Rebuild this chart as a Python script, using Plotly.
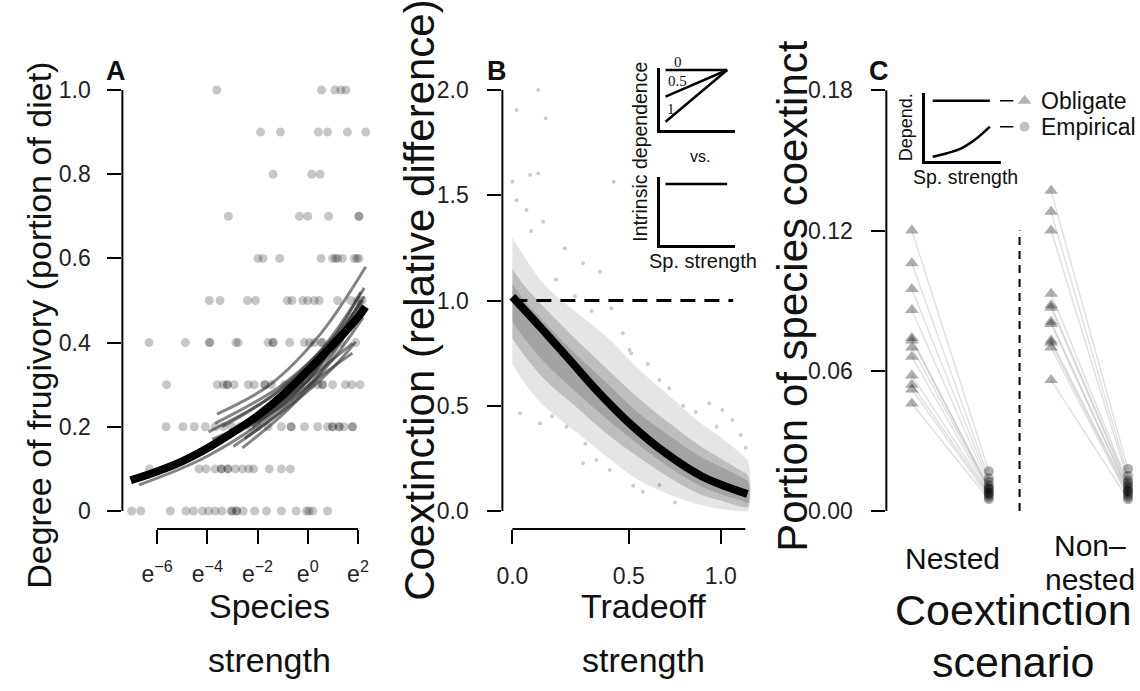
import plotly.graph_objects as go

W, H = 1140, 691
def fx(p): return p / W
def fy(p): return 1 - p / H

FONT = "Liberation Sans, Arial, Helvetica, sans-serif"
SERIF = "Liberation Serif, Times New Roman, serif"
INK = "#111111"

# ---------------- Panel A data (x = ln species strength) ----------------
a_x_100 = [-3.62, 0.55, 1.08, 1.32, 1.52]
a_x_090 = [-1.88, -1.09, 0.42, 0.79, 1.58, 2.31]
a_x_080 = [-1.38, 0.16, 0.49]
a_x_070 = [-3.16, -0.33, 0.0, 0.83, 2.04, 2.04]
a_x_060 = [-1.98, -1.78, -1.12, 0.53, 0.99, 1.10, 1.19, 1.38, 1.85, 1.95, 2.04]
a_x_050 = [-3.92, -3.49, -2.40, -2.08, -0.81, -0.63, -0.20, 0.0, 0.26, 0.46, 1.19, 1.71, 1.98, 2.17]
a_x_040 = [-6.32, -4.87, -3.91, -3.91, -2.86, -2.77, -1.58, -1.38, -1.38, -0.72, -0.13, 0.07, 0.26, 0.53, 0.59, 1.05, 1.32, 1.91]
a_x_030 = [-5.62, -3.60, -3.36, -3.20, -3.20, -2.93, -2.37, -2.13, -1.71, -1.71, -1.45, -0.92, -0.53, -0.26, 0.13, 0.40, 0.59, 0.59, 0.99, 1.50, 1.75, 2.08]
a_x_020 = [-5.64, -4.97, -4.52, -4.08, -3.69, -3.36, -3.03, -2.70, -2.30, -1.98, -1.58, -1.05, -0.66, -0.66, -0.13, 0.40, 0.79, 0.99, 0.99, 1.25, 1.25, 1.45, 1.78, 1.78]
a_x_010 = [-6.30, -4.33, -4.05, -3.69, -3.44, -3.44, -3.18, -3.18, -2.88, -2.60, -2.35, -2.15, -1.53, -1.05, -0.69]
a_x_000 = [-7.01, -6.65, -5.47, -4.85, -4.55, -4.19, -3.95, -3.69, -3.42, -3.05, -3.00, -2.83, -2.83, -2.57, -2.11, -1.64, -1.05, -0.46, -0.05, 0.05, 0.20, 0.79]
a_rows = [(1.0, a_x_100), (0.9, a_x_090), (0.8, a_x_080), (0.7, a_x_070), (0.6, a_x_060),
          (0.5, a_x_050), (0.4, a_x_040), (0.3, a_x_030), (0.2, a_x_020), (0.1, a_x_010), (0.0, a_x_000)]

# individual network fits (grey)
a_fits_x = [[-3.62, -1.5, 0.5, 2.31], [-3.95, -1.0, 1.0, 2.11], [-3.69, -1.0, 1.0, 2.2],
            [-2.96, -1.0, 0.5, 2.17], [-2.5, -0.5, 1.0, 1.91], [-3.3, -1.0, 0.5, 1.78],
            [-6.72, -4.0, -1.0, 1.0, 2.2], [-3.4, -1.5, 0.5, 2.25], [-2.2, -0.5, 1.0, 2.1],
            [-3.0, -1.0, 0.8, 1.78], [-2.6, -0.8, 1.0, 2.2], [-3.8, -1.8, 0.3, 2.0],
            [-2.0, 0.0, 1.5, 2.25], [-3.1, -1.2, 0.6, 2.1]]
a_fits_y = [[0.23, 0.30, 0.42, 0.58], [0.188, 0.29, 0.41, 0.52], [0.208, 0.30, 0.41, 0.50],
            [0.153, 0.24, 0.33, 0.49], [0.173, 0.26, 0.34, 0.402], [0.17, 0.25, 0.32, 0.375],
            [0.062, 0.13, 0.25, 0.38, 0.47], [0.20, 0.27, 0.38, 0.53], [0.20, 0.29, 0.39, 0.50],
            [0.18, 0.26, 0.35, 0.398], [0.15, 0.24, 0.36, 0.46], [0.17, 0.23, 0.34, 0.47],
            [0.21, 0.31, 0.44, 0.51], [0.19, 0.26, 0.37, 0.47]]
# overall fit (black)
a_fit_x = [-7.05, -6.0, -5.0, -4.0, -3.0, -2.0, -1.0, 0.0, 1.0, 2.0, 2.3]
a_fit_y = [0.073, 0.094, 0.118, 0.149, 0.186, 0.226, 0.275, 0.333, 0.395, 0.46, 0.485]

a_xtick_vals = [-6, -4, -2, 0, 2]
a_xtick_text = ["e<sup>\u22126</sup>", "e<sup>\u22124</sup>", "e<sup>\u22122</sup>", "e<sup>0</sup>", "e<sup>2</sup>"]
a_ytick_vals = [0, 0.2, 0.4, 0.6, 0.8, 1.0]
a_ytick_text = ["0", "0.2", "0.4", "0.6", "0.8", "1.0"]

# ---------------- Panel B data ----------------
b_xtick_pos = [0.0, 0.559, 1.0]          # tick positions as read on the axis
b_xtick_text = ["0.0", "0.5", "1.0"]
b_ytick_vals = [0, 0.5, 1.0, 1.5, 2.0]
b_ytick_text = ["0.0", "0.5", "1.0", "1.5", "2.0"]

b_band_u = [0, 0.05, 0.15, 0.3, 0.45, 0.6, 0.75, 0.9, 1.0, 1.1, 1.13]
b_outer_hi = [1.30, 1.22, 1.08, 0.95, 0.83, 0.68, 0.55, 0.42, 0.35, 0.27, 0.24]
b_outer_lo = [0.70, 0.62, 0.50, 0.38, 0.26, 0.15, 0.08, 0.03, 0.01, 0.0, 0.0]
b_inner_hi = [1.15, 1.08, 0.97, 0.82, 0.68, 0.54, 0.42, 0.31, 0.25, 0.19, 0.17]
b_inner_lo = [0.82, 0.75, 0.63, 0.50, 0.37, 0.26, 0.16, 0.08, 0.05, 0.02, 0.02]
b_core_hi = [1.08, 1.01, 0.90, 0.75, 0.61, 0.47, 0.36, 0.26, 0.21, 0.16, 0.14]
b_core_lo = [0.90, 0.83, 0.71, 0.57, 0.44, 0.32, 0.21, 0.12, 0.08, 0.05, 0.04]

b_pts_u = [0.124, 0.02, 0.16, 0.486, 0.085, 0.124, 0.0, 0.02, 0.148, 0.068, 0.339, 0.42, 0.252,
           0.475, 0.53, 0.57, 0.037, 0.132, 0.339, 0.403, 0.467, 0.626, 0.706, 0.753, 0.945,
           1.008, 1.056, 1.096, 0.562, 0.706, 0.21, 0.30, 0.38, 0.09, 0.26, 0.65, 0.82, 0.88,
           0.19, 0.35, 0.58, 0.78, 0.98, 1.12]
b_pts_v = [2.0, 1.905, 1.866, 1.564, 1.596, 1.604, 1.564, 1.477, 1.374, 1.43, 1.177, 1.137, 1.248,
           0.963, 0.844, 0.749, 0.464, 0.417, 0.227, 0.242, 0.195, 0.092, 0.124, 0.583, 0.512,
           0.48, 0.432, 0.361, 0.765, 0.622, 1.10, 1.02, 0.95, 1.33, 0.40, 0.70, 0.50, 0.47,
           0.45, 0.32, 0.12, 0.04, 0.40, 0.30]

b_fit_u = [0.0, 0.132, 0.276, 0.403, 0.562, 0.737, 0.913, 1.128]
b_fit_v = [1.018, 0.876, 0.717, 0.575, 0.417, 0.274, 0.163, 0.081]
b_ref_u = [0.0, 1.06]
b_ref_v = [1.0, 1.0]

# inset B
inset_labels = ["0", "0.5", "1"]
inset_start = [1.0, 0.555, 0.138]
inset_flat = [1.0, 1.0]

# ---------------- Panel C data ----------------
c_nested_obl = [0.120, 0.106, 0.095, 0.086, 0.074, 0.073, 0.070, 0.066, 0.058, 0.054, 0.052, 0.046]
c_nested_emp = [0.017, 0.014, 0.0125, 0.011, 0.010, 0.0095, 0.009, 0.008, 0.0075, 0.007, 0.006, 0.005]
c_nonn_obl = [0.137, 0.128, 0.120, 0.093, 0.088, 0.087, 0.081, 0.080, 0.073, 0.072, 0.070, 0.056]
c_nonn_emp = [0.018, 0.015, 0.013, 0.012, 0.011, 0.010, 0.009, 0.0085, 0.008, 0.007, 0.006, 0.005]
c_pos = {"nested": (1.0, 2.0), "nonnested": (2.81, 3.81)}
c_sep = 2.40
c_ytick_vals = [0, 0.06, 0.12, 0.18]
c_ytick_text = ["0.00", "0.06", "0.12", "0.18"]
c_inset_emp_x = [0, 0.25, 0.5, 0.75, 1.0]
c_inset_emp_y = [0.071, 0.128, 0.21, 0.36, 0.569]

fig = go.Figure()

# ---- A ----
ax, ay = [], []
for yv, xs in a_rows:
    ax += xs
    ay += [yv] * len(xs)
fig.add_trace(go.Scatter(x=ax, y=ay, mode="markers", xaxis="x", yaxis="y",
                         marker=dict(size=9, color="rgba(0,0,0,0.22)", line=dict(width=0)),
                         hoverinfo="skip", showlegend=False))
for xs, ys in zip(a_fits_x, a_fits_y):
    fig.add_trace(go.Scatter(x=xs, y=ys, mode="lines", xaxis="x", yaxis="y",
                             line=dict(color="rgba(50,50,50,0.6)", width=3, shape="spline"),
                             hoverinfo="skip", showlegend=False))
fig.add_trace(go.Scatter(x=a_fit_x, y=a_fit_y, mode="lines", xaxis="x", yaxis="y",
                         line=dict(color="black", width=8, shape="spline"),
                         hoverinfo="skip", showlegend=False))

# ---- B ----
for hi, lo, col in [(b_outer_hi, b_outer_lo, "rgba(0,0,0,0.10)"),
                    (b_inner_hi, b_inner_lo, "rgba(0,0,0,0.17)"),
                    (b_core_hi, b_core_lo, "rgba(0,0,0,0.14)")]:
    fig.add_trace(go.Scatter(x=b_band_u + b_band_u[::-1], y=hi + lo[::-1], mode="lines",
                             fill="toself", fillcolor=col, line=dict(width=0, shape="spline"),
                             xaxis="x2", yaxis="y2", hoverinfo="skip", showlegend=False))
fig.add_trace(go.Scatter(x=b_pts_u, y=b_pts_v, mode="markers", xaxis="x2", yaxis="y2",
                         marker=dict(size=4, color="rgba(0,0,0,0.2)", line=dict(width=0)),
                         hoverinfo="skip", showlegend=False))
fig.add_trace(go.Scatter(x=b_ref_u, y=b_ref_v, mode="lines", xaxis="x2", yaxis="y2",
                         line=dict(color="black", width=3, dash="15px,9px"),
                         hoverinfo="skip", showlegend=False))
fig.add_trace(go.Scatter(x=b_fit_u, y=b_fit_v, mode="lines", xaxis="x2", yaxis="y2",
                         line=dict(color="black", width=8, shape="spline"),
                         hoverinfo="skip", showlegend=False))

# inset B
for st in inset_start:
    fig.add_trace(go.Scatter(x=[0, 1], y=[st, 1.0], mode="lines", xaxis="x4", yaxis="y4",
                             line=dict(color="black", width=2.5), hoverinfo="skip", showlegend=False))
fig.add_trace(go.Scatter(x=[0, 1], y=inset_flat, mode="lines", xaxis="x5", yaxis="y5",
                         line=dict(color="black", width=2.5), hoverinfo="skip", showlegend=False))

# ---- C ----
for obl, emp, key in [(c_nested_obl, c_nested_emp, "nested"), (c_nonn_obl, c_nonn_emp, "nonnested")]:
    x0, x1 = c_pos[key]
    lx, ly = [], []
    for o, e in zip(obl, emp):
        lx += [x0, x1, None]
        ly += [o, e, None]
    fig.add_trace(go.Scatter(x=lx, y=ly, mode="lines", xaxis="x3", yaxis="y3",
                             line=dict(color="rgba(0,0,0,0.12)", width=1.5),
                             hoverinfo="skip", showlegend=False))
    fig.add_trace(go.Scatter(x=[x0] * len(obl), y=obl, mode="markers", xaxis="x3", yaxis="y3",
                             marker=dict(symbol="triangle-up", size=12, color="rgba(0,0,0,0.32)", line=dict(width=0)),
                             hoverinfo="skip", showlegend=False))
    fig.add_trace(go.Scatter(x=[x1] * len(emp), y=emp, mode="markers", xaxis="x3", yaxis="y3",
                             marker=dict(symbol="circle", size=10, color="rgba(0,0,0,0.32)", line=dict(width=0)),
                             hoverinfo="skip", showlegend=False))

# C inset
fig.add_trace(go.Scatter(x=[0, 1], y=[1, 1], mode="lines", xaxis="x6", yaxis="y6",
                         line=dict(color="black", width=2.5), hoverinfo="skip", showlegend=False))
fig.add_trace(go.Scatter(x=c_inset_emp_x, y=c_inset_emp_y, mode="lines", xaxis="x6", yaxis="y6",
                         line=dict(color="black", width=2.5, shape="spline"), hoverinfo="skip", showlegend=False))
# C legend
leg_y = [1.0, c_inset_emp_y[-1]]
fig.add_trace(go.Scatter(x=[0.03, 0.122, None, 0.03, 0.122], y=[leg_y[0], leg_y[0], None, leg_y[1], leg_y[1]],
                         mode="lines", xaxis="x7", yaxis="y7", line=dict(color="black", width=1.5),
                         hoverinfo="skip", showlegend=False))
fig.add_trace(go.Scatter(x=[0.2], y=[leg_y[0]], mode="markers", xaxis="x7", yaxis="y7",
                         marker=dict(symbol="triangle-up", size=12, color="#b3b3b3"), hoverinfo="skip", showlegend=False))
fig.add_trace(go.Scatter(x=[0.2], y=[leg_y[1]], mode="markers", xaxis="x7", yaxis="y7",
                         marker=dict(symbol="circle", size=10, color="#c2c2c2"), hoverinfo="skip", showlegend=False))

tickfont = dict(family=FONT, size=23, color="#222222")
common = dict(showgrid=False, zeroline=False, showline=False, ticks="outside", ticklen=14,
              tickwidth=2, tickcolor="black", tickfont=tickfont)
blank = dict(showgrid=False, zeroline=False, showticklabels=False, ticks="")

fig.update_layout(
    width=W, height=H, margin=dict(l=0, r=0, t=0, b=0),
    paper_bgcolor="white", plot_bgcolor="white", showlegend=False,
    xaxis=dict(domain=[fx(117), fx(371)], range=[-7.38, 2.68], tickvals=a_xtick_vals,
               ticktext=a_xtick_text, anchor="y", ticklabelstandoff=10, **common),
    yaxis=dict(domain=[fy(529), fy(73)], range=[-0.0428, 1.0404], tickvals=a_ytick_vals,
               ticktext=a_ytick_text, anchor="x", ticklabelstandoff=12, **common),
    xaxis2=dict(domain=[fx(499), fx(752)], range=[-0.048, 1.16], tickvals=b_xtick_pos,
                ticktext=b_xtick_text, anchor="y2", ticklabelstandoff=12, **common),
    yaxis2=dict(domain=[fy(529), fy(69)], range=[-0.0855, 2.1], tickvals=b_ytick_vals,
                ticktext=b_ytick_text, anchor="x2", ticklabelstandoff=14, **common),
    xaxis3=dict(domain=[fx(885), fx(1140)], range=[0.668, 3.966], anchor="y3", **blank),
    yaxis3=dict(domain=[fy(528), fy(60)], range=[-0.0073, 0.193], tickvals=c_ytick_vals,
                ticktext=c_ytick_text, anchor="x3", ticklabelstandoff=14, **common),
    xaxis4=dict(domain=[fx(657), fx(733)], range=[-0.097, 1.129], anchor="y4", showline=True,
                linewidth=2.5, linecolor="black", **blank),
    yaxis4=dict(domain=[fy(130), fy(68)], range=[0, 1.033], anchor="x4", showline=True,
                linewidth=2.5, linecolor="black", **blank),
    xaxis5=dict(domain=[fx(657), fx(733)], range=[-0.097, 1.129], anchor="y5", showline=True,
                linewidth=2.5, linecolor="black", **blank),
    yaxis5=dict(domain=[fy(245), fy(177)], range=[0, 1.115], anchor="x5", showline=True,
                linewidth=2.5, linecolor="black", **blank),
    xaxis6=dict(domain=[fx(924), fx(1000)], range=[-0.132, 1.19], anchor="y6", showline=True,
                linewidth=2.5, linecolor="black", **blank),
    yaxis6=dict(domain=[fy(161), fy(93)], range=[0, 1.128], anchor="x6", showline=True,
                linewidth=2.5, linecolor="black", **blank),
    xaxis7=dict(domain=[fx(995), fx(1140)], range=[0, 1], anchor="y7", showline=False, **blank),
    yaxis7=dict(domain=[fy(161), fy(93)], range=[0, 1.128], anchor="x7", showline=False, **blank),
)

shapes = [
    dict(type="line", xref="x", yref="y domain", x0=a_xtick_vals[0], x1=a_xtick_vals[-1], y0=0, y1=0,
         line=dict(color="black", width=2)),
    dict(type="line", xref="x domain", yref="y", x0=0, x1=0, y0=a_ytick_vals[0], y1=a_ytick_vals[-1],
         line=dict(color="black", width=2)),
    dict(type="line", xref="x2", yref="y2 domain", x0=b_xtick_pos[0], x1=1.118, y0=0, y1=0,
         line=dict(color="black", width=2)),
    dict(type="line", xref="x2 domain", yref="y2", x0=0, x1=0, y0=b_ytick_vals[0], y1=b_ytick_vals[-1],
         line=dict(color="black", width=2)),
    dict(type="line", xref="x3 domain", yref="y3", x0=0, x1=0, y0=c_ytick_vals[0], y1=c_ytick_vals[-1],
         line=dict(color="black", width=2)),
    dict(type="line", xref="x3", yref="y3", x0=c_sep, x1=c_sep, y0=0, y1=0.12,
         line=dict(color="black", width=2, dash="8px,6px")),
]
fig.update_layout(shapes=shapes)

def ann(text, x, y, size, angle=0, family=FONT, xanchor="center", xref="paper", yref="paper"):
    return dict(text=text, x=x, y=y, xref=xref, yref=yref, showarrow=False, textangle=angle,
                xanchor=xanchor, yanchor="middle", font=dict(family=family, size=size, color=INK))

anns = [
    ann("<b>A</b>", fx(111), fy(71), 27),
    ann("<b>B</b>", fx(494), fy(71), 27),
    ann("<b>C</b>", fx(878), fy(71), 27),
    ann("Degree of frugivory (portion of diet)", fx(33), fy(325), 34, -90),
    ann("Species", fx(265), fy(606), 34),
    ann("strength", fx(265), fy(660), 34),
    ann("Coextinction (relative difference)", fx(415), fy(300), 42, -90),
    ann("Tradeoff", fx(641), fy(606), 34),
    ann("strength", fx(641), fy(660), 34),
    ann("Portion of species coextinct", fx(790), fy(296), 42, -90),
    ann("Coextinction", fx(1013), fy(610), 43),
    ann("scenario", fx(1013), fy(662), 43),
    ann("Nested", fx(952), fy(558), 30),
    ann("Non\u2013", fx(1090), fy(545), 30),
    ann("nested", fx(1090), fy(579), 30),
    # inset B
    ann("Intrinsic dependence", fx(637), fy(152), 19.5, -90),
    ann("Sp. strength", fx(701), fy(261), 20),
    ann("vs.", fx(698), fy(157), 16),
    ann(inset_labels[0], fx(676), fy(62), 15, family=SERIF),
    ann(inset_labels[1], fx(675), fy(80.5), 15, family=SERIF),
    ann(inset_labels[2], fx(668.5), fy(109), 15, family=SERIF),
    # inset C
    ann("Depend.", fx(905), fy(127), 18, -90),
    ann("Sp. strength", fx(965), fy(177), 19.5),
    ann("Obligate", 0.3, leg_y[0], 23, xanchor="left", xref="x7", yref="y7"),
    ann("Empirical", 0.3, leg_y[1], 23, xanchor="left", xref="x7", yref="y7"),
]
fig.update_layout(annotations=anns)

fig.write_html("out.html")
